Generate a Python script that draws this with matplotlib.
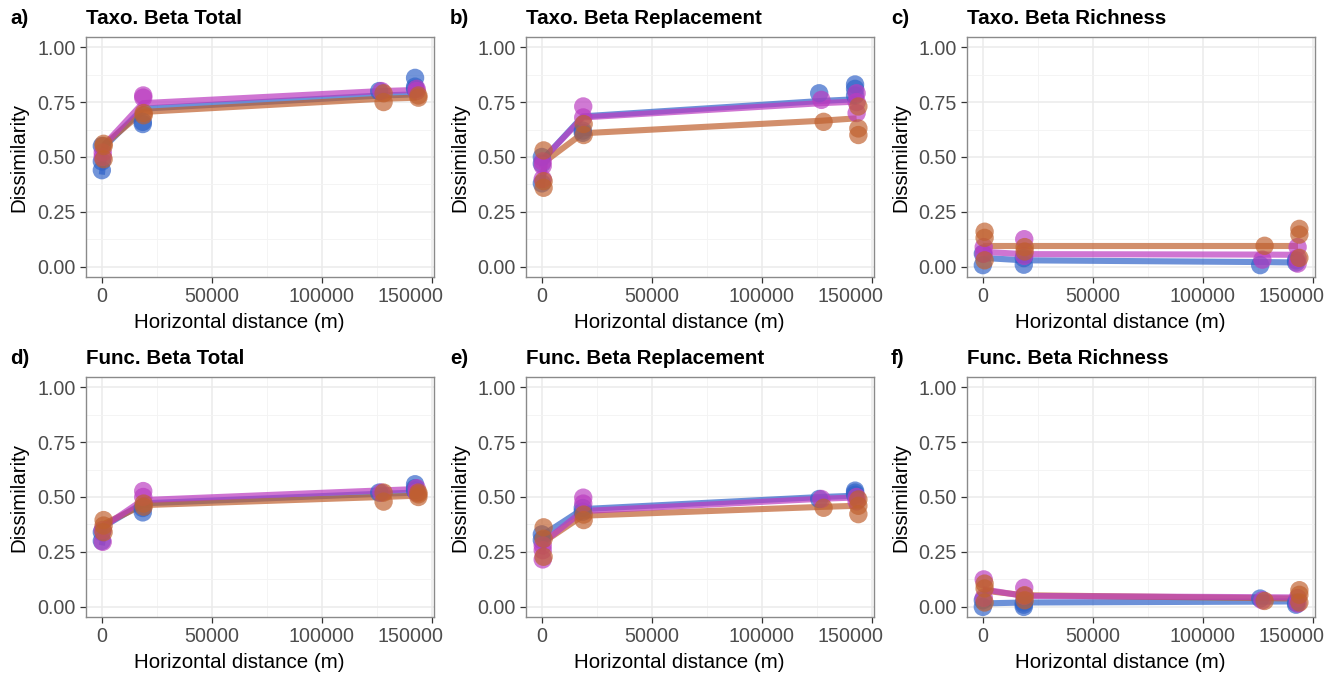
import matplotlib
matplotlib.use("Agg")
import matplotlib.pyplot as plt
from matplotlib.ticker import MultipleLocator
from matplotlib.transforms import ScaledTranslation

plt.rcParams['font.family'] = ['Liberation Sans', 'DejaVu Sans']

# distances of the site clusters for each group (m)
x_blue = [0, 18600, 126000, 142300]
x_mag = [400, 18800, 127000, 143000]
x_orange = [800, 19000, 128000, 143800]
# distances at which the fitted curves are drawn
fit_x = [0, 1500, 18600, 127000, 143000]

titles = ["Taxo. Beta Total", "Taxo. Beta Replacement", "Taxo. Beta Richness",
          "Func. Beta Total", "Func. Beta Replacement", "Func. Beta Richness"]
letters = ["a)", "b)", "c)", "d)", "e)", "f)"]

# points per distance cluster, then fitted curve, for each group and panel
a_blue = [[0.44, 0.48, 0.55], [0.65, 0.66], [0.80], [0.86, 0.82, 0.81]]
a_mag = [[0.50, 0.52], [0.78, 0.77], [0.80], [0.81, 0.80]]
a_orange = [[0.49, 0.56, 0.55], [0.70, 0.69], [0.75, 0.79], [0.77, 0.78]]
a_blue_fit = [0.42, 0.55, 0.72, 0.78, 0.785]
a_mag_fit = [0.50, 0.56, 0.745, 0.80, 0.805]
a_orange_fit = [0.50, 0.56, 0.705, 0.765, 0.77]

b_blue = [[0.38, 0.50, 0.47], [0.61, 0.62], [0.79], [0.83, 0.81, 0.78]]
b_mag = [[0.40, 0.48, 0.46], [0.73, 0.68], [0.76], [0.79, 0.70, 0.75]]
b_orange = [[0.53, 0.39, 0.36], [0.60, 0.65], [0.66], [0.63, 0.60, 0.73]]
b_blue_fit = [0.36, 0.50, 0.685, 0.755, 0.763]
b_mag_fit = [0.45, 0.50, 0.68, 0.745, 0.752]
b_orange_fit = [0.38, 0.48, 0.608, 0.665, 0.676]

c_blue = [[0.008, 0.06], [0.01, 0.04], [0.008], [0.02, 0.03]]
c_mag = [[0.09, 0.06], [0.126, 0.05], [0.033], [0.09, 0.015, 0.04]]
c_orange = [[0.16, 0.132, 0.03], [0.09, 0.07], [0.096], [0.173, 0.147, 0.041]]
c_blue_fit = [0.041, 0.04, 0.03, 0.022, 0.02]
c_mag_fit = [0.07, 0.068, 0.058, 0.056, 0.055]
c_orange_fit = [0.096, 0.096, 0.096, 0.096, 0.096]

d_blue = [[0.30, 0.34], [0.43, 0.45], [0.52], [0.558, 0.54, 0.53]]
d_mag = [[0.296, 0.35], [0.527, 0.50], [0.52], [0.54, 0.52]]
d_orange = [[0.395, 0.37, 0.34], [0.456, 0.47], [0.479, 0.52], [0.512, 0.50, 0.52]]
d_blue_fit = [0.28, 0.37, 0.471, 0.515, 0.52]
d_mag_fit = [0.33, 0.37, 0.486, 0.53, 0.536]
d_orange_fit = [0.35, 0.38, 0.463, 0.50, 0.506]

e_blue = [[0.304, 0.33], [0.433, 0.45], [0.491], [0.529, 0.52, 0.51]]
e_mag = [[0.216, 0.258, 0.28], [0.497, 0.47], [0.491], [0.50, 0.48]]
e_orange = [[0.362, 0.228, 0.31], [0.395, 0.42], [0.451], [0.422, 0.489, 0.46]]
e_blue_fit = [0.30, 0.334, 0.445, 0.50, 0.506]
e_mag_fit = [0.24, 0.30, 0.436, 0.492, 0.498]
e_orange_fit = [0.25, 0.30, 0.415, 0.455, 0.46]

f_blue = [[0.0, 0.03], [0.0, 0.01, 0.02], [0.038], [0.01, 0.02]]
f_mag = [[0.125, 0.041], [0.087, 0.05], [0.03], [0.015, 0.04]]
f_orange = [[0.106, 0.084, 0.02], [0.053, 0.03], [0.027], [0.076, 0.055, 0.02]]
f_blue_fit = [0.015, 0.016, 0.02, 0.024, 0.025]
f_mag_fit = [0.081, 0.078, 0.05, 0.044, 0.043]
f_orange_fit = [0.075, 0.073, 0.053, 0.04, 0.038]

panels = [
    (a_blue, a_mag, a_orange, a_blue_fit, a_mag_fit, a_orange_fit),
    (b_blue, b_mag, b_orange, b_blue_fit, b_mag_fit, b_orange_fit),
    (c_blue, c_mag, c_orange, c_blue_fit, c_mag_fit, c_orange_fit),
    (d_blue, d_mag, d_orange, d_blue_fit, d_mag_fit, d_orange_fit),
    (e_blue, e_mag, e_orange, e_blue_fit, e_mag_fit, e_orange_fit),
    (f_blue, f_mag, f_orange, f_blue_fit, f_mag_fit, f_orange_fit),
]

col_blue = "#2F62C8"
col_mag = "#BB3BC0"
col_orange = "#C0602E"

W, H = 1338, 679
fig = plt.figure(figsize=(W / 100, H / 100), dpi=100)

lefts = [86, 526, 967]
tops = [37, 377]
pw, ph = 348, 240


def flat(xs, groups):
    px, py = [], []
    for xv, vals in zip(xs, groups):
        for v in vals:
            px.append(xv)
            py.append(v)
    return px, py


for i, (pb, pm, po, fb, fm, fo) in enumerate(panels):
    r, c = divmod(i, 3)
    l, t = lefts[c], tops[r]
    ax = fig.add_axes([l / W, 1 - (t + ph) / H, pw / W, ph / H])

    ax.plot(fit_x, fb, color=col_blue, lw=4.4, alpha=0.7, solid_capstyle='butt', zorder=3)
    ax.plot(fit_x, fo, color=col_orange, lw=4.4, alpha=0.7, solid_capstyle='butt', zorder=3)
    ax.plot(fit_x, fm, color=col_mag, lw=4.4, alpha=0.7, solid_capstyle='butt', zorder=3)

    for xs, grp, col in [(x_blue, pb, col_blue), (x_mag, pm, col_mag), (x_orange, po, col_orange)]:
        px, py = flat(xs, grp)
        ax.scatter(px, py, s=175, color=col, alpha=0.68, edgecolors='none', zorder=4)

    ax.set_xlim(-7200, 150900)
    ax.set_ylim(-0.046, 1.046)
    ax.set_xticks([0, 50000, 100000, 150000])
    ax.set_xticklabels(["0", "50000", "100000", "150000"])
    ax.set_yticks([0, 0.25, 0.5, 0.75, 1.0])
    ax.set_yticklabels(["0.00", "0.25", "0.50", "0.75", "1.00"])
    ax.xaxis.set_minor_locator(MultipleLocator(25000))
    ax.yaxis.set_minor_locator(MultipleLocator(0.125))
    ax.grid(which='major', color='#EBEBEB', lw=1.1, zorder=0)
    ax.grid(which='minor', color='#F3F3F3', lw=0.6, zorder=0)
    ax.set_axisbelow(True)
    ax.tick_params(which='minor', length=0)
    ax.tick_params(which='major', length=4.5, width=0.9, color='#333333',
                   labelsize=14.2, labelcolor='#4D4D4D', pad=3)
    for s in ax.spines.values():
        s.set_color('#8A8A8A')
        s.set_linewidth(1.0)
    # last tick label sits a bit left of its tick in the original
    lab = ax.get_xticklabels()[-1]
    lab.set_transform(lab.get_transform() + ScaledTranslation(-0.22, 0, fig.dpi_scale_trans))

    ax.set_ylabel("Dissimilarity", fontsize=14.8, color='black', labelpad=6)
    fig.text((l + 153) / W, 1 - (t + ph + 46) / H, "Horizontal distance (m)",
             fontsize=14.8, ha='center', va='center')

    fig.text((l - 76) / W, 1 - (t - 19) / H, letters[i], fontsize=14.8, fontweight='bold',
             ha='left', va='center')
    fig.text(l / W, 1 - (t - 19) / H, titles[i], fontsize=14.8, fontweight='bold',
             ha='left', va='center')

fig.savefig("out.png", dpi=100)
